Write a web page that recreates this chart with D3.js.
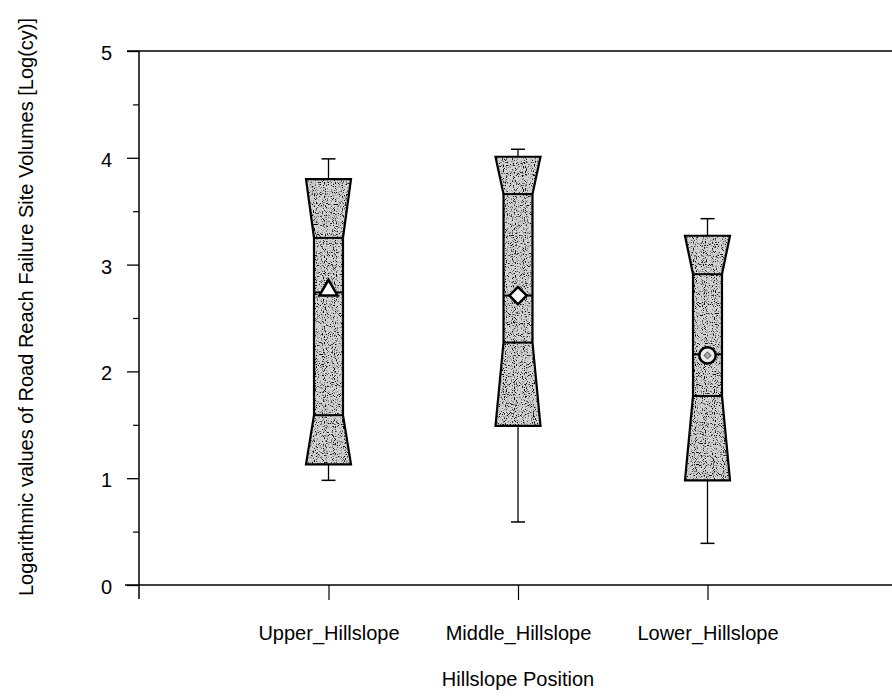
<!DOCTYPE html>
<html>
<head>
<meta charset="utf-8">
<script src="https://cdn.jsdelivr.net/npm/d3@7"></script>
<style>
  body { margin: 0; background: #fff; }
  text { font-family: "Liberation Sans", Arial, sans-serif; fill: #000; }
</style>
</head>
<body>
<div id="vis"></div>
<script>
// box plot values (log10 of cubic yards)
var categories = ['Upper_Hillslope', 'Middle_Hillslope', 'Lower_Hillslope'];
var whiskerLow = [0.98, 0.59, 0.39];
var q1 = [1.13, 1.49, 0.98];
var notchLow = [1.59, 2.27, 1.77];
var median = [2.74, 2.71, 2.16];
var notchHigh = [3.25, 3.66, 2.91];
var q3 = [3.80, 4.01, 3.27];
var whiskerHigh = [3.99, 4.08, 3.43];
var means = [2.76, 2.71, 2.15];
var markers = ['triangle', 'diamond', 'circle'];

var yTicks = [0, 1, 2, 3, 4, 5];
var yMinorTicks = [0.5, 1.5, 2.5, 3.5, 4.5];

var width = 892;
var height = 698;

var boxWide = 45;
var boxNarrow = 29;
var capHalf = 7;

var svg = d3.select('#vis').append('svg')
    .attr('width', width)
    .attr('height', height);

var x = d3.scaleLinear().domain([0, 4]).range([139, 897]);
var y = d3.scaleLinear().domain([0, 5]).range([585, 51]);

// stipple fill like the scanned original
var defs = svg.append('defs');
var filt = defs.append('filter').attr('id', 'noise')
    .attr('x', 0).attr('y', 0).attr('width', '100%').attr('height', '100%');
filt.append('feTurbulence')
    .attr('type', 'fractalNoise')
    .attr('baseFrequency', 0.9)
    .attr('numOctaves', 1)
    .attr('seed', 4);
filt.append('feColorMatrix')
    .attr('type', 'matrix')
    .attr('values', '0 0 0 0 0  0 0 0 0 0  0 0 0 0 0  6 0 0 0 -3.2');
var pat = defs.append('pattern').attr('id', 'stipple')
    .attr('patternUnits', 'userSpaceOnUse')
    .attr('width', width).attr('height', height);
pat.append('rect').attr('width', width).attr('height', height).attr('fill', '#d2d2d2');
pat.append('rect').attr('width', width).attr('height', height)
    .attr('fill', '#222').attr('filter', 'url(#noise)');

var data = categories.map(function (c, i) {
  return {
    name: c, pos: i + 1,
    wl: whiskerLow[i], q1: q1[i], nl: notchLow[i], med: median[i],
    nh: notchHigh[i], q3: q3[i], wh: whiskerHigh[i],
    mean: means[i], marker: markers[i]
  };
});

// y axis
var yAxis = d3.axisLeft(y).tickValues(yTicks).tickSize(12).tickPadding(15)
    .tickFormat(d3.format('d'));
var gy = svg.append('g').attr('transform', 'translate(' + x(0) + ',0)').call(yAxis);
gy.select('.domain').remove();
gy.selectAll('line').attr('stroke-width', 1.3);
gy.selectAll('text').style('font-size', '20px').attr('dy', '0.42em');

var gyMinor = svg.append('g').attr('transform', 'translate(' + x(0) + ',0)')
    .call(d3.axisLeft(y).tickValues(yMinorTicks).tickSize(6).tickFormat(''));
gyMinor.select('.domain').remove();
gyMinor.selectAll('line').attr('stroke-width', 1.2);

// x axis
var xAxis = d3.axisBottom(x).tickValues([1, 2, 3]).tickSize(15).tickPadding(26)
    .tickFormat(function (d) { return categories[d - 1]; });
var gx = svg.append('g').attr('transform', 'translate(0,' + y(0) + ')').call(xAxis);
gx.select('.domain').remove();
gx.selectAll('line').attr('stroke-width', 1.2);
gx.selectAll('text').style('font-size', '20px');

// frame lines
svg.append('line').attr('x1', x(0) - 14).attr('x2', width).attr('y1', y(0)).attr('y2', y(0))
    .attr('stroke', '#000').attr('stroke-width', 1.5);
svg.append('line').attr('x1', x(0) - 12).attr('x2', width).attr('y1', y(5)).attr('y2', y(5))
    .attr('stroke', '#000').attr('stroke-width', 1.5);
svg.append('line').attr('x1', x(0)).attr('x2', x(0)).attr('y1', y(5)).attr('y2', y(0) + 14)
    .attr('stroke', '#000').attr('stroke-width', 1.5);

// titles
svg.append('text')
    .attr('x', x(2)).attr('y', 686)
    .attr('text-anchor', 'middle')
    .style('font-size', '20px')
    .text('Hillslope Position');

svg.append('text')
    .attr('transform', 'translate(33,' + 307 + ') rotate(-90)')
    .attr('text-anchor', 'middle')
    .style('font-size', '20px')
    .text('Logarithmic values of Road Reach Failure Site Volumes [Log(cy)]');

// boxes
var boxes = svg.selectAll('.box').data(data).enter()
    .append('g').attr('class', 'box');

// whiskers
boxes.append('line')
    .attr('x1', function (d) { return x(d.pos); })
    .attr('x2', function (d) { return x(d.pos); })
    .attr('y1', function (d) { return y(d.q3); })
    .attr('y2', function (d) { return y(d.wh); })
    .attr('stroke', '#000').attr('stroke-width', 1.3);
boxes.append('line')
    .attr('x1', function (d) { return x(d.pos); })
    .attr('x2', function (d) { return x(d.pos); })
    .attr('y1', function (d) { return y(d.q1); })
    .attr('y2', function (d) { return y(d.wl); })
    .attr('stroke', '#000').attr('stroke-width', 1.3);
boxes.append('line')
    .attr('x1', function (d) { return x(d.pos) - capHalf; })
    .attr('x2', function (d) { return x(d.pos) + capHalf; })
    .attr('y1', function (d) { return y(d.wh); })
    .attr('y2', function (d) { return y(d.wh); })
    .attr('stroke', '#000').attr('stroke-width', 1.5);
boxes.append('line')
    .attr('x1', function (d) { return x(d.pos) - capHalf; })
    .attr('x2', function (d) { return x(d.pos) + capHalf; })
    .attr('y1', function (d) { return y(d.wl); })
    .attr('y2', function (d) { return y(d.wl); })
    .attr('stroke', '#000').attr('stroke-width', 1.5);

// notched outline
boxes.append('path')
    .attr('d', function (d) {
      var cx = x(d.pos), w = boxWide / 2, n = boxNarrow / 2;
      return 'M' + (cx - w) + ',' + y(d.q3) +
        'L' + (cx + w) + ',' + y(d.q3) +
        'L' + (cx + n) + ',' + y(d.nh) +
        'L' + (cx + n) + ',' + y(d.nl) +
        'L' + (cx + w) + ',' + y(d.q1) +
        'L' + (cx - w) + ',' + y(d.q1) +
        'L' + (cx - n) + ',' + y(d.nl) +
        'L' + (cx - n) + ',' + y(d.nh) + 'Z';
    })
    .attr('fill', 'url(#stipple)')
    .attr('stroke', '#000')
    .attr('stroke-width', 2.2)
    .attr('stroke-linejoin', 'miter');

// notch lines and median
['nh', 'nl', 'med'].forEach(function (k) {
  boxes.append('line')
      .attr('x1', function (d) { return x(d.pos) - boxNarrow / 2; })
      .attr('x2', function (d) { return x(d.pos) + boxNarrow / 2; })
      .attr('y1', function (d) { return y(d[k]); })
      .attr('y2', function (d) { return y(d[k]); })
      .attr('stroke', '#000').attr('stroke-width', 2);
});

// mean markers
boxes.each(function (d) {
  var g = d3.select(this);
  var cx = x(d.pos), cy = y(d.mean);
  if (d.marker === 'triangle') {
    g.append('path')
        .attr('d', d3.symbol().type(d3.symbolTriangle).size(140)())
        .attr('transform', 'translate(' + cx + ',' + cy + ')')
        .attr('fill', '#fff').attr('stroke', '#000').attr('stroke-width', 2.5);
  } else if (d.marker === 'diamond') {
    g.append('path')
        .attr('d', d3.symbol().type(d3.symbolSquare).size(150)())
        .attr('transform', 'translate(' + cx + ',' + cy + ') rotate(45)')
        .attr('fill', '#fff').attr('stroke', '#000').attr('stroke-width', 2.5);
  } else {
    g.append('path')
        .attr('d', d3.symbol().type(d3.symbolCircle).size(210)())
        .attr('transform', 'translate(' + cx + ',' + cy + ')')
        .attr('fill', '#ececec').attr('stroke', '#000').attr('stroke-width', 2.5);
    g.append('path')
        .attr('d', d3.symbol().type(d3.symbolSquare).size(24)())
        .attr('transform', 'translate(' + cx + ',' + cy + ') rotate(45)')
        .attr('fill', '#aaa').attr('stroke', '#666').attr('stroke-width', 1);
  }
});
</script>
</body>
</html>
